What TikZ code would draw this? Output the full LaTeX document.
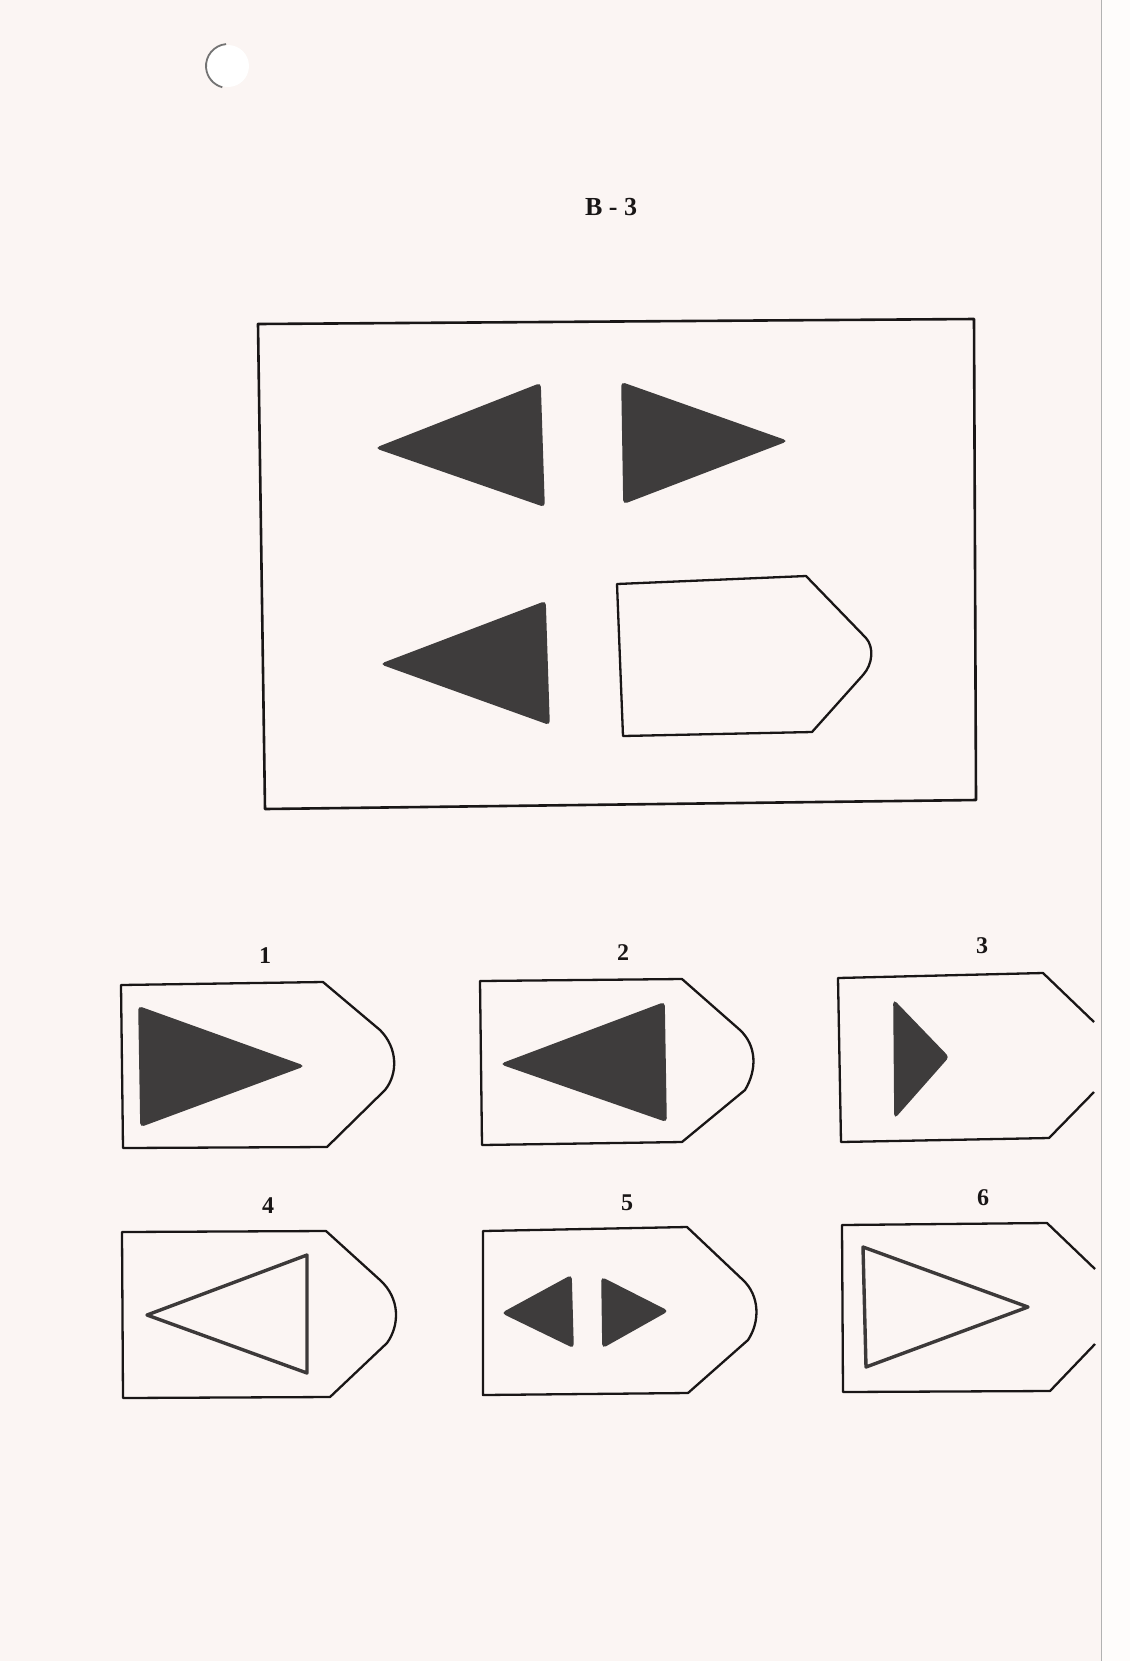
\documentclass[tikz,border=0pt]{standalone}
\usepackage{fontspec}
\setmainfont{Liberation Serif}
\definecolor{pagecol}{RGB}{251,245,243}
\definecolor{inkfill}{RGB}{62,60,60}
\definecolor{ink}{RGB}{25,22,22}
\begin{document}
\begin{tikzpicture}[x=0.5pt,y=-0.5pt,
  frame/.style={draw=ink, line width=1.3pt, line join=round},
  solidtri/.style={fill=inkfill, draw=inkfill, line width=0.8pt, rounded corners=1.5pt},
  opentri/.style={draw=ink!85, line width=1.7pt, line join=round},
  card/.style={draw=ink, line width=1.15pt, line join=round},
  lbl/.style={font=\bfseries\fontsize{12}{12}\selectfont, inner sep=0pt, text=ink}]
% page
\fill[pagecol] (0,0) rectangle (1130,1661);
\useasboundingbox (0,0) rectangle (1130,1661);
\fill[white!70!pagecol] (1101,0) rectangle (1130,1661);
\draw[black!30, line width=0.5pt] (1101,0) -- (1101,1661);
% punched hole
\fill[white] (228,66) circle (21);
\draw[black!55, line width=0.9pt] (228,66) ++(265:22) arc (265:105:22);
% title
\node[lbl, font=\bfseries\fontsize{13}{13}\selectfont] (title) at (611,207) {B - 3};
% main frame
\draw[frame] (258,324) -- (974,319) -- (976,800) -- (265,809) -- cycle;
\fill[solidtri] (377,448) -- (540,384) -- (544,506) -- cycle;
\fill[solidtri] (622,383) -- (624,503) -- (786,441) -- cycle;
\fill[solidtri] (382,664) -- (545,602) -- (549,724) -- cycle;
\draw[card] (617,584) -- (806,576) -- (866,638) .. controls (874,647) and (873,664) .. (863,675) -- (812,732) -- (623,736) -- cycle;
% card 1
\node[lbl] (n1) at (265,956) {1};
\draw[card] (121,985) -- (323,982) -- (380,1030) .. controls (398,1048) and (398,1074) .. (385,1090) -- (327,1147) -- (123,1148) -- cycle;
\fill[solidtri] (139,1007) -- (141,1126) -- (303,1066) -- cycle;
% card 2
\node[lbl] (n2) at (623,953) {2};
\draw[card] (480,981) -- (682,979) -- (740,1030) .. controls (757,1046) and (757,1070) .. (745,1090) -- (682,1142) -- (482,1145) -- cycle;
\fill[solidtri] (502,1064) -- (664,1003) -- (666,1121) -- cycle;
% card 3
\node[lbl] (n3) at (982,946) {3};
\draw[card] (1094,1022) -- (1043,973) -- (838,978) -- (841,1142) -- (1049,1138) -- (1094,1092);
\fill[solidtri] (894,1001) -- (895,1117) -- (948,1057) -- cycle;
% card 4
\node[lbl] (n4) at (268,1206) {4};
\draw[card] (122,1232) -- (326,1231) -- (380,1280) .. controls (400,1298) and (400,1325) .. (387,1343) -- (330,1397) -- (123,1398) -- cycle;
\draw[opentri] (147,1315) -- (307,1255) -- (307,1373) -- cycle;
% card 5
\node[lbl] (n5) at (627,1203) {5};
\draw[card] (483,1231) -- (687,1227) -- (743,1280) .. controls (760,1296) and (760,1322) .. (748,1340) -- (688,1393) -- (483,1395) -- cycle;
\fill[solidtri] (503,1313) -- (571,1276) -- (573,1347) -- cycle;
\fill[solidtri] (602,1278) -- (603,1347) -- (667,1311) -- cycle;
% card 6
\node[lbl] (n6) at (983,1198) {6};
\draw[card] (1095,1269) -- (1047,1223) -- (842,1225) -- (843,1392) -- (1050,1391) -- (1095,1344);
\draw[opentri] (863,1247) -- (866,1367) -- (1028,1307) -- cycle;
\end{tikzpicture}
\end{document}
